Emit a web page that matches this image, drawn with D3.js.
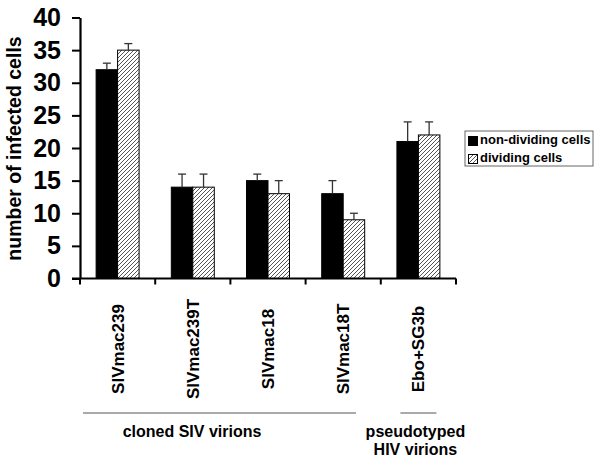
<!DOCTYPE html>
<html>
<head>
<meta charset="utf-8">
<script src="https://cdn.jsdelivr.net/npm/d3@7"></script>
<style>
  html, body { margin: 0; padding: 0; background: #fff; }
  svg { display: block; font-family: "Liberation Sans", Arial, sans-serif; }
</style>
</head>
<body>
<svg id="chart" width="600" height="461"></svg>
<script>
// ---- data ----
const categories = ["SIVmac239", "SIVmac239T", "SIVmac18", "SIVmac18T", "Ebo+SG3b"];
const seriesNames = ["non-dividing cells", "dividing cells"];
const nonDividing = [32, 14, 15, 13, 21];
const nonDividingErr = [1, 2, 1, 2, 3];
const dividing = [35, 14, 13, 9, 22];
const dividingErr = [1, 2, 2, 1, 2];
const yTicks = [0, 5, 10, 15, 20, 25, 30, 35, 40];
const groupLabels = [["cloned SIV virions"], ["pseudotyped", "HIV virions"]];
const groupMembers = [[0, 1, 2, 3], [4]];

const svg = d3.select("#chart");
const defs = svg.append("defs");
const pat = defs.append("pattern")
  .attr("id", "hatch").attr("patternUnits", "userSpaceOnUse")
  .attr("width", 4).attr("height", 4);
pat.append("rect").attr("width", 4).attr("height", 4).attr("fill", "#fff");
pat.append("path").attr("d", "M-1,1 l2,-2 M0,4 l4,-4 M3,5 l2,-2")
  .attr("stroke", "#555").attr("stroke-width", 1);

const x = d3.scaleBand().domain(categories).range([80, 456]).paddingInner(0).paddingOuter(0);
const x1 = d3.scaleBand().domain(seriesNames).range([0, x.bandwidth()]).paddingInner(0).paddingOuter(0.75);
const y = d3.scaleLinear().domain([0, 40]).range([278.5, 17.5]);

const values = [nonDividing, dividing];
const errs = [nonDividingErr, dividingErr];
const fills = ["#000", "url(#hatch)"];

// bars
seriesNames.forEach((s, si) => {
  const g = svg.append("g");
  g.selectAll("rect").data(categories).join("rect")
    .attr("x", (c) => x(c) + x1(s))
    .attr("y", (c, i) => y(values[si][i]))
    .attr("width", x1.bandwidth())
    .attr("height", (c, i) => y(0) - y(values[si][i]))
    .attr("fill", fills[si])
    .attr("stroke", "#000").attr("stroke-width", 1);
  // error bars (upward only)
  const eg = svg.append("g").attr("stroke", "#333").attr("stroke-width", 1.3);
  categories.forEach((c, i) => {
    const cx = x(c) + x1(s) + x1.bandwidth() / 2;
    const top = y(values[si][i] + errs[si][i]);
    eg.append("line").attr("x1", cx).attr("x2", cx).attr("y1", y(values[si][i])).attr("y2", top);
    eg.append("line").attr("x1", cx - 4).attr("x2", cx + 4).attr("y1", top).attr("y2", top);
  });
});

// y axis
const yAxis = svg.append("g").attr("transform", "translate(80,0)")
  .call(d3.axisLeft(y).tickValues(yTicks).tickSize(8).tickSizeOuter(0).tickPadding(11));
yAxis.select(".domain").attr("stroke-width", 2.2);
yAxis.selectAll(".tick line").attr("stroke-width", 2);
yAxis.selectAll(".tick text").attr("font-size", 25).attr("font-weight", "bold")
  .attr("font-family", "'Liberation Sans', Arial, sans-serif").attr("fill", "#000");

// x axis line and boundary ticks
const xAxis = svg.append("g").attr("transform", `translate(0,${y(0)})`);
xAxis.append("line").attr("x1", 72).attr("x2", x.range()[1]).attr("y1", 0).attr("y2", 0)
  .attr("stroke", "#000").attr("stroke-width", 2.2);
const bounds = categories.map((c) => x(c)).concat([x.range()[1]]);
xAxis.selectAll("line.bt").data(bounds).join("line").attr("class", "bt")
  .attr("x1", (d) => d).attr("x2", (d) => d).attr("y1", 0).attr("y2", 6)
  .attr("stroke", "#000").attr("stroke-width", 2);

// category labels
svg.append("g").selectAll("text").data(categories).join("text")
  .attr("transform", (c) => `translate(${x(c) + x.bandwidth() / 2 + 6},349) rotate(-90)`)
  .attr("text-anchor", "middle").attr("font-size", 17).attr("font-weight", "bold")
  .text((c) => c);

// y title
svg.append("text").attr("transform", "translate(21,148.5) rotate(-90)")
  .attr("text-anchor", "middle").attr("font-size", 19.5).attr("font-weight", "bold")
  .text("number of infected cells");

// group lines and labels
const bw = x.bandwidth();
const g1 = groupMembers[0];
svg.append("line")
  .attr("x1", x(categories[g1[0]]) + 3).attr("x2", x(categories[g1[g1.length - 1]]) + bw * 0.67)
  .attr("y1", 413).attr("y2", 413).attr("stroke", "#555").attr("stroke-width", 1);
svg.append("text").attr("x", 192).attr("y", 437).attr("text-anchor", "middle")
  .attr("font-size", 16).attr("font-weight", "bold").text(groupLabels[0][0]);
const c2 = x(categories[groupMembers[1][0]]) + bw / 2;
svg.append("line").attr("x1", c2 - 18).attr("x2", c2 + 18)
  .attr("y1", 413).attr("y2", 413).attr("stroke", "#555").attr("stroke-width", 1);
svg.append("g").selectAll("text").data(groupLabels[1]).join("text")
  .attr("x", c2 - 3).attr("y", (d, i) => 437 + i * 18).attr("text-anchor", "middle")
  .attr("font-size", 16).attr("font-weight", "bold").text((d) => d);

// legend
const lg = svg.append("g").attr("transform", "translate(465,131)");
lg.append("rect").attr("width", 128).attr("height", 35).attr("fill", "#fff")
  .attr("stroke", "#666").attr("stroke-width", 1);
seriesNames.forEach((s, i) => {
  lg.append("rect").attr("x", 3.5).attr("y", 5.5 + i * 18).attr("width", 9).attr("height", 9)
    .attr("fill", fills[i]).attr("stroke", "#000").attr("stroke-width", 1);
  lg.append("text").attr("x", 15).attr("y", 13 + i * 18)
    .attr("font-size", 13).attr("font-weight", "bold").text(s);
});
</script>
</body>
</html>
